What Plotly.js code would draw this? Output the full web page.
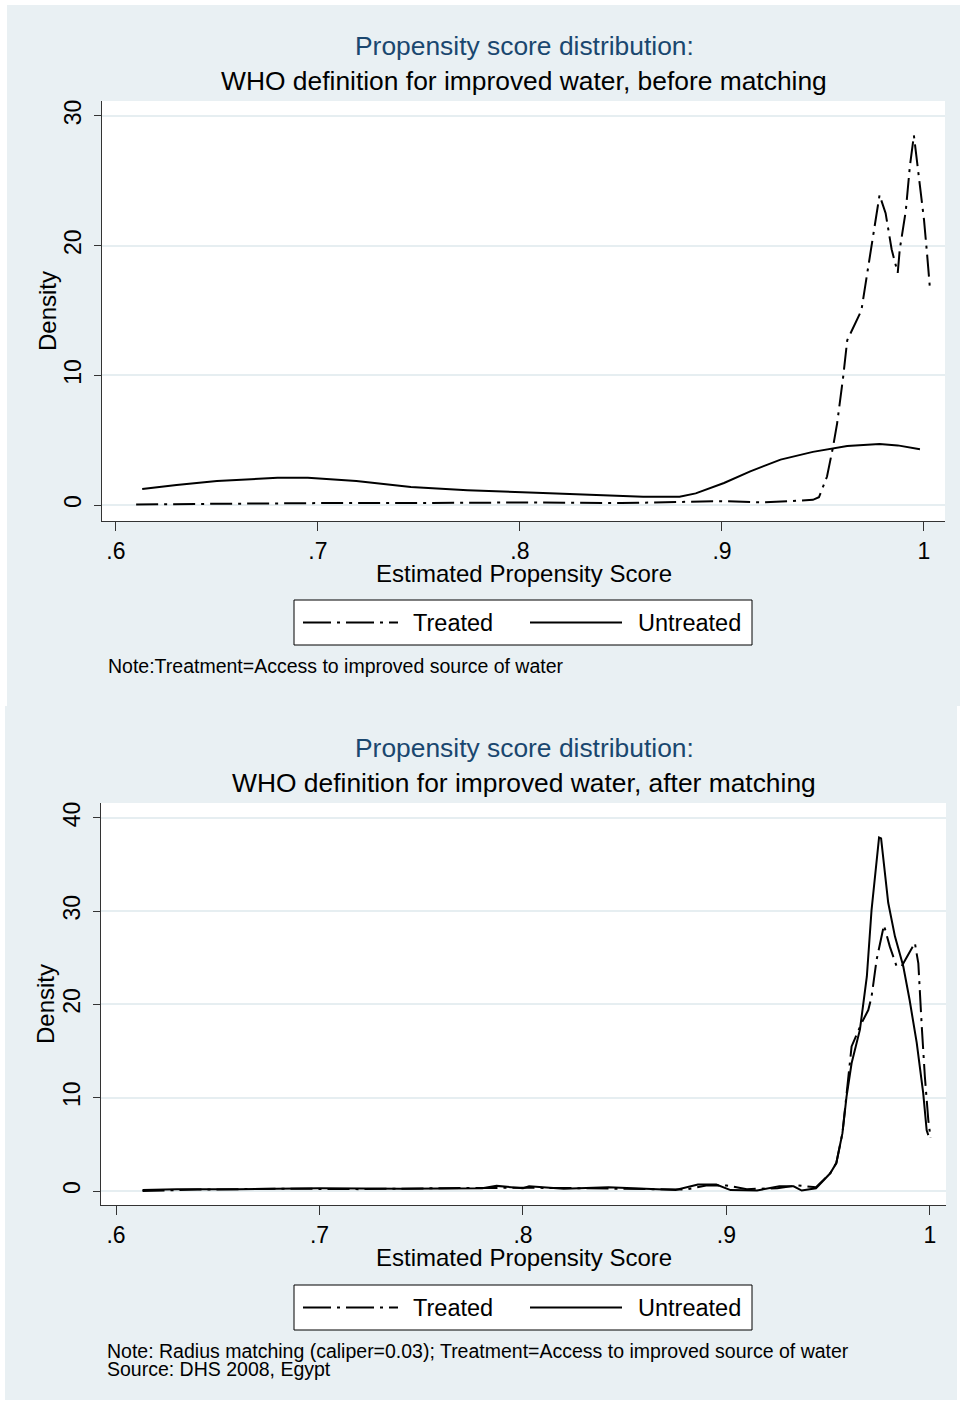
<!DOCTYPE html>
<html>
<head>
<meta charset="utf-8">
<script src="https://cdn.plot.ly/plotly-3.0.1.min.js"></script>
<style>html,body{margin:0;padding:0;background:#fff;}#chart{width:960px;height:1403px;}</style>
</head>
<body>
<div id="chart"></div>
<script>
// ---- Data ----
const xTickVals = [0.6, 0.7, 0.8, 0.9, 1.0];
const xTickText = ['.6', '.7', '.8', '.9', '1'];
const yTickValsTop = [0, 10, 20, 30];
const yTickValsBottom = [0, 10, 20, 30, 40];

// Before matching
const beforeTreatedX = [0.610, 0.650, 0.700, 0.750, 0.800, 0.850, 0.880, 0.900, 0.920, 0.940, 0.945, 0.948, 0.952, 0.955, 0.957, 0.960, 0.962, 0.969, 0.972, 0.976, 0.978, 0.981, 0.984, 0.987, 0.988, 0.991, 0.993, 0.995, 0.997, 1.000, 1.0015, 1.003];
const beforeTreatedY = [0.05, 0.10, 0.15, 0.15, 0.20, 0.15, 0.25, 0.30, 0.20, 0.35, 0.40, 0.60, 2.2, 4.5, 6.3, 9.9, 12.7, 15.0, 17.9, 21.7, 23.9, 22.5, 19.7, 17.9, 19.7, 22.7, 26.1, 28.5, 25.8, 22.0, 19.4, 16.6];
const beforeUntreatedX = [0.613, 0.630, 0.650, 0.665, 0.680, 0.695, 0.719, 0.746, 0.774, 0.808, 0.841, 0.861, 0.879, 0.887, 0.901, 0.914, 0.929, 0.945, 0.962, 0.978, 0.987, 0.998];
const beforeUntreatedY = [1.23, 1.55, 1.85, 2.0, 2.1, 2.1, 1.85, 1.4, 1.15, 0.95, 0.77, 0.64, 0.64, 0.90, 1.7, 2.6, 3.5, 4.1, 4.55, 4.7, 4.6, 4.3];

// After matching
const afterTreatedX = [0.613, 0.640, 0.680, 0.720, 0.760, 0.800, 0.830, 0.860, 0.880, 0.890, 0.900, 0.910, 0.925, 0.935, 0.944, 0.951, 0.954, 0.957, 0.9615, 0.9664, 0.9697, 0.9713, 0.9738, 0.9774, 0.9803, 0.9836, 0.9861, 0.9926, 0.9943, 0.996, 0.9975, 0.9992, 1.0003];
const afterTreatedY = [0.0, 0.15, 0.25, 0.20, 0.30, 0.35, 0.30, 0.25, 0.15, 0.60, 0.60, 0.20, 0.30, 0.60, 0.40, 1.9, 3.0, 6.2, 15.5, 18.0, 19.4, 20.8, 24.8, 28.5, 26.2, 24.1, 24.1, 26.6, 24.4, 17.6, 12.3, 7.6, 5.7];
const afterUntreatedX = [0.613, 0.630, 0.660, 0.700, 0.740, 0.780, 0.787, 0.800, 0.803, 0.820, 0.842, 0.860, 0.875, 0.886, 0.895, 0.902, 0.915, 0.926, 0.933, 0.937, 0.944, 0.951, 0.954, 0.957, 0.959, 0.9615, 0.9656, 0.969, 0.9713, 0.975, 0.976, 0.9795, 0.9828, 0.9869, 0.990, 0.9935, 0.9967, 0.9984, 0.9992];
const afterUntreatedY = [0.1, 0.2, 0.2, 0.3, 0.25, 0.3, 0.55, 0.3, 0.5, 0.25, 0.4, 0.2, 0.1, 0.7, 0.7, 0.1, 0.05, 0.5, 0.5, 0.05, 0.3, 1.9, 3.0, 6.2, 10.1, 13.7, 17.3, 23.0, 30.1, 37.9, 37.8, 30.9, 27.3, 24.1, 20.5, 15.9, 10.5, 6.5, 6.0];

const seriesNames = ['Treated', 'Untreated'];
const topTitle = ['Propensity score distribution:', 'WHO definition for improved water, before matching'];
const bottomTitle = ['Propensity score distribution:', 'WHO definition for improved water, after matching'];
const xTitle = 'Estimated Propensity Score';
const yTitle = 'Density';
const topNote = 'Note:Treatment=Access to improved source of water';
const bottomNote = ['Note: Radius matching (caliper=0.03); Treatment=Access to improved source of water', 'Source: DHS 2008, Egypt'];

// ---- Style ----
const W = 960, H = 1403;
const PANEL = '#e9f0f3';
const GRID = '#e6eef1';
const NAVY = '#1a476f';
const FONT = '"Liberation Sans", Arial, sans-serif';
const DASHDOT = '22px,6px,3px,6px';
const px = v => v / W;
const py = v => 1 - v / H;

function line(x, y, xa, ya, dash) {
  return {x: x, y: y, xaxis: xa, yaxis: ya, type: 'scatter', mode: 'lines',
    line: {color: '#000', width: 2, dash: dash}, showlegend: false, hoverinfo: 'skip'};
}
const traces = [
  line(beforeTreatedX, beforeTreatedY, 'x', 'y', DASHDOT),
  line(beforeUntreatedX, beforeUntreatedY, 'x', 'y', 'solid'),
  line(afterTreatedX, afterTreatedY, 'x2', 'y2', DASHDOT),
  line(afterUntreatedX, afterUntreatedY, 'x2', 'y2', 'solid')
];

function xax(domain, range, anchor) {
  return {domain: domain, range: range, anchor: anchor, tickvals: xTickVals, ticktext: xTickText,
    ticks: 'outside', ticklen: 9, tickcolor: '#333', tickwidth: 1, showline: true, linecolor: '#333', linewidth: 1,
    showgrid: false, zeroline: false, tickfont: {family: FONT, size: 23, color: '#000'}, ticklabelstandoff: 0};
}
function yax(domain, range, anchor, vals) {
  return {domain: domain, range: range, anchor: anchor, tickvals: vals, tickangle: -90,
    ticks: 'outside', ticklen: 7, tickcolor: '#333', tickwidth: 1, showline: true, linecolor: '#333', linewidth: 1,
    showgrid: true, gridcolor: GRID, gridwidth: 2, zeroline: false,
    tickfont: {family: FONT, size: 23, color: '#000'}, ticklabelstandoff: 4};
}

const shapes = [
  {type: 'rect', xref: 'paper', yref: 'paper', x0: px(7), x1: 1, y0: py(706), y1: py(5), fillcolor: PANEL, line: {width: 0}, layer: 'below'},
  {type: 'rect', xref: 'paper', yref: 'paper', x0: px(5), x1: px(957), y0: py(1400), y1: py(706), fillcolor: PANEL, line: {width: 0}, layer: 'below'},
  {type: 'rect', xref: 'paper', yref: 'paper', x0: px(102), x1: px(945), y0: py(521), y1: py(101), fillcolor: '#fff', line: {width: 0}, layer: 'below'},
  {type: 'rect', xref: 'paper', yref: 'paper', x0: px(101), x1: px(946), y0: py(1205), y1: py(803), fillcolor: '#fff', line: {width: 0}, layer: 'below'}
];
const annotations = [];
function txt(text, x, y, opts) {
  annotations.push(Object.assign({text: text, xref: 'paper', yref: 'paper', x: px(x), y: py(y),
    xanchor: 'center', yanchor: 'middle', showarrow: false,
    font: {family: FONT, size: 24, color: '#000'}}, opts || {}));
}
function legendBox(top) {
  const l = 294, r = 752, t = top, b = top + 45, mid = top + 22.5;
  shapes.push({type: 'rect', xref: 'paper', yref: 'paper', x0: px(l), x1: px(r), y0: py(b), y1: py(t), fillcolor: '#fff', line: {color: '#000', width: 1}});
  shapes.push({type: 'line', xref: 'paper', yref: 'paper', x0: px(303), x1: px(398), y0: py(mid), y1: py(mid), line: {color: '#000', width: 2, dash: '28px,6px,3px,6px'}});
  shapes.push({type: 'line', xref: 'paper', yref: 'paper', x0: px(530), x1: px(622), y0: py(mid), y1: py(mid), line: {color: '#000', width: 2}});
  txt(seriesNames[0], 411, mid, {xanchor: 'left', font: {family: FONT, size: 23.5, color: '#000'}});
  txt(seriesNames[1], 636, mid, {xanchor: 'left', font: {family: FONT, size: 23.5, color: '#000'}});
}
const NOTEFONT = {family: FONT, size: 19.5, color: '#000'};

// Top panel texts
txt(topTitle[0], 524, 46, {font: {family: FONT, size: 26.4, color: NAVY}});
txt(topTitle[1], 524, 81, {font: {family: FONT, size: 26.4, color: '#000'}});
txt(xTitle, 524, 573);
txt(yTitle, 47, 311, {textangle: -90});
legendBox(600);
txt(topNote, 106, 666, {xanchor: 'left', font: NOTEFONT});

// Bottom panel texts
txt(bottomTitle[0], 524, 748, {font: {family: FONT, size: 26.4, color: NAVY}});
txt(bottomTitle[1], 524, 783, {font: {family: FONT, size: 26.4, color: '#000'}});
txt(xTitle, 524, 1257);
txt(yTitle, 45, 1004, {textangle: -90});
legendBox(1285);
txt(bottomNote[0], 105, 1351, {xanchor: 'left', font: NOTEFONT});
txt(bottomNote[1], 105, 1369, {xanchor: 'left', font: NOTEFONT});

const layout = {
  width: W, height: H, margin: {l: 0, r: 0, t: 0, b: 0},
  paper_bgcolor: '#fff', plot_bgcolor: 'rgba(0,0,0,0)', showlegend: false,
  xaxis: xax([px(102), px(945)], [0.5931, 1.0104], 'y'),
  yaxis: yax([py(521), py(101)], [-1.23, 31.15], 'x', yTickValsTop),
  xaxis2: xax([px(101), px(946)], [0.5926, 1.0079], 'y2'),
  yaxis2: yax([py(1205), py(803)], [-1.5, 41.6], 'x2', yTickValsBottom),
  shapes: shapes, annotations: annotations
};
Plotly.newPlot('chart', traces, layout, {staticPlot: true, displayModeBar: false});
</script>
</body>
</html>
